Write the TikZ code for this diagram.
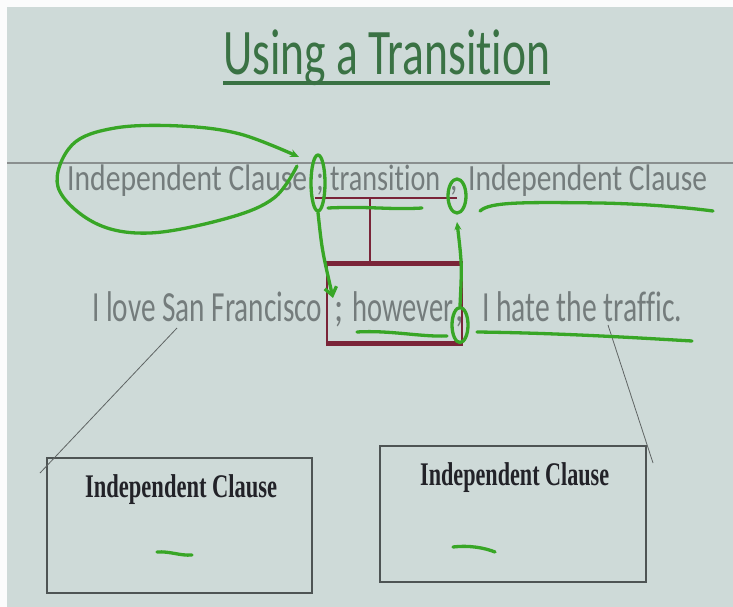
\documentclass[tikz,border=0pt]{standalone}
\usepackage{fontspec}
\usepackage{graphicx}
\newfontfamily\slidefont[Ligatures={NoCommon}]{Carlito}
\newfontfamily\handoutfont{Liberation Serif}
\usetikzlibrary{arrows.meta}
\usetikzlibrary{shapes.geometric}
\definecolor{slidebg}{RGB}{206,218,216}
\definecolor{titlegreen}{RGB}{58,114,68}
\definecolor{slidegray}{RGB}{116,124,124}
\definecolor{rulegray}{RGB}{138,143,143}
\definecolor{markgreen}{RGB}{56,166,38}
\definecolor{bracketred}{RGB}{122,36,56}
\definecolor{pointergray}{RGB}{95,100,100}
\definecolor{boxgray}{RGB}{78,84,84}
\definecolor{boxtext}{RGB}{34,34,40}

\begin{document}
\begin{tikzpicture}[x=1pt,y=-1pt,
    slide/.style={inner sep=0pt,anchor=base west,text=slidegray},
    lineone/.style={slide,font=\slidefont\fontsize{37}{40}\selectfont},
    linetwo/.style={slide,font=\slidefont\fontsize{43}{46}\selectfont},
    heading/.style={inner sep=0pt,anchor=base west,text=titlegreen,font=\slidefont\fontsize{65}{68}\selectfont},
    marker/.style={draw=markgreen,line width=3.3pt,line cap=round,line join=round},
    ring/.style={marker,ellipse,inner sep=0pt},
    bracket/.style={draw=bracketred,line width=2.5pt},
    pointer/.style={draw=pointergray,line width=0.8pt},
    handout/.style={draw=boxgray,line width=1.6pt,inner sep=0pt},
    handouttext/.style={inner sep=0pt,anchor=base west,text=boxtext,font=\handoutfont\bfseries\fontsize{33}{36}\selectfont}]
    \useasboundingbox (0,0) rectangle (733,607);
    % slide background and the thin rule behind the first line
    \fill[slidebg] (0,0) rectangle (733,607);
    \fill[white!92!slidebg] (0,0) rectangle (7,607);
    \fill[white!92!slidebg] (0,0) rectangle (733,7);
    \draw[rulegray,line width=1.5pt] (7,163) -- (733,163);

    % title (kerns keep t-i and f-f-i apart)
    \node[heading] (title) at (223,75) {\resizebox{327pt}{\height}{Using a Transit\kern0pt ion}};
    \draw[titlegreen,line width=3.5pt] ([yshift=-8pt]title.base west) -- ([yshift=-8pt]title.base east);

    % pattern line
    \node[lineone] (clauseA) at (67,190) {\resizebox{240pt}{\height}{Independent Clause}};
    \node[lineone] (semiA) at (316,190) {\scalebox{0.8}[1]{;}};
    \node[lineone] (transition) at (330,190) {\resizebox{110pt}{\height}{transit\kern0pt ion}};
    \node[lineone] (commaA) at (450,190) {\scalebox{0.8}[1]{,}};
    \node[lineone] (clauseB) at (468,190) {\resizebox{239pt}{\height}{Independent Clause}};

    % example sentence
    \node[linetwo] (love) at (92,321) {\resizebox{230pt}{\height}{I love San Francisco}};
    \node[linetwo] (semiB) at (334,321) {\scalebox{0.8}[1]{;}};
    \node[linetwo] (however) at (352,321) {\resizebox{101pt}{\height}{however}};
    \node[linetwo] (commaB) at (455,321) {\scalebox{0.8}[1]{,}};
    \node[linetwo] (hate) at (482,321) {\resizebox{200pt}{\height}{I hate the traf\kern0pt f\kern0pt ic.}};

    % bracket from transition down to however
    \coordinate (barL) at (315,198);
    \coordinate (barR) at (457,198);
    \coordinate (stem) at (370,198);
    \node[bracket,minimum width=135pt,minimum height=78pt,inner sep=0pt] (slot) at (394.5,303.5) {};
    \draw[bracket] (barL) -- (barR);
    \draw[bracket] (stem) -- (stem |- slot.north);
    \draw[bracket,line width=4.5pt] (slot.north west) -- (slot.north east);
    \draw[bracket,line width=4.5pt] (slot.south west) -- (slot.south east);

    % pointers and the two clause boxes
    \coordinate (fromSF) at (177,328);
    \coordinate (tailL) at (40,473);
    \coordinate (fromTraffic) at (608,325);
    \coordinate (tailR) at (653,463);
    \node[handout,minimum width=265pt,minimum height=135pt] (boxL) at (179.5,525.5) {};
    \node[handout,minimum width=266pt,minimum height=136pt] (boxR) at (513,514) {};
    \draw[pointer] (fromSF) -- (tailL);
    \draw[pointer] (fromTraffic) -- (tailR);
    \node[handouttext] (labelL) at (85,497) {\resizebox{192pt}{\height}{Independent Clause}};
    \node[handouttext] (labelR) at (420,485) {\resizebox{189pt}{\height}{Independent Clause}};

    % pen marks
    \draw[marker,-{Stealth[length=9pt,width=8pt]}] plot[smooth,tension=0.6] coordinates {(297,166) (274,198) (228,218) (150,233) (95,223) (58,187) (72,145) (115,128) (180,126) (240,134) (299,157)};
    \node[ring,minimum width=14pt,minimum height=56pt] (ringsemi) at (318,183) {};
    \node[ring,minimum width=18pt,minimum height=34pt] (ringcommaA) at (457,196) {};
    \node[ring,minimum width=16pt,minimum height=35pt] (ringcommaB) at (460,325) {};
    \coordinate (dropsemi) at (333,298);
    \coordinate (risecomma) at (457,222);
    \draw[marker,-{Straight Barb[length=8pt,width=12pt]}] (ringsemi.south) .. controls (322,250) .. (dropsemi);
    \draw[marker,-{Stealth[length=8pt,width=7pt]}] (ringcommaB.north) .. controls (462,265) .. (risecomma);
    \draw[marker] (328,208) .. controls (370,206) and (390,210) .. (422,208);
    \draw[marker] (480,211) .. controls (490,202) and (520,202) .. (600,203) .. controls (650,204) and (690,208) .. (713,211);
    \draw[marker] (357,332) .. controls (390,330) and (420,337) .. (447,336);
    \draw[marker] (477,332) .. controls (560,333) and (640,338) .. (692,341);
    \draw[marker] (157,552) .. controls (170,551) and (180,556) .. (192,555);
    \draw[marker] (453,547) .. controls (470,545) and (485,548) .. (495,552);
\end{tikzpicture}
\end{document}
